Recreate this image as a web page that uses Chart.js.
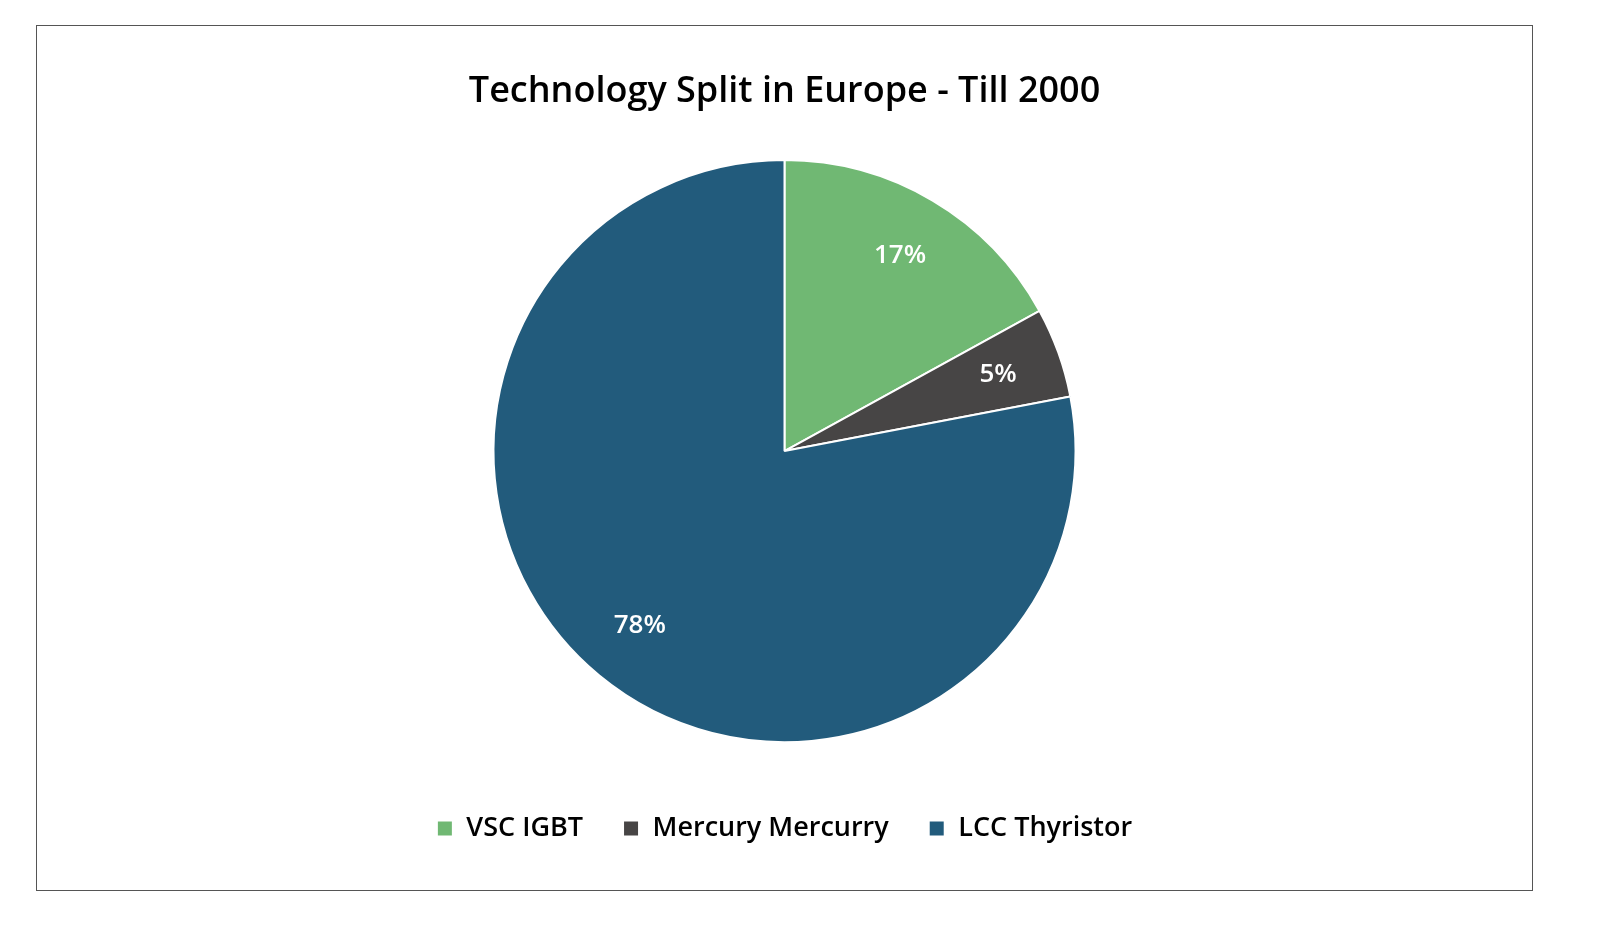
<!DOCTYPE html>
<html>
<head>
<meta charset="utf-8">
<script src="https://cdn.jsdelivr.net/npm/chart.js@4"></script>
<style>
  body { margin: 0; background: #fff; }
  #box { position: absolute; left: 36px; top: 25px; width: 1495px; height: 864px; border: 1px solid #555; }
</style>
</head>
<body>
<div id="box"><canvas id="pie"></canvas></div>
<script>
const categories = ["VSC IGBT", "Mercury Mercurry", "LCC Thyristor"];
const shares = [17, 5, 78];
const colours = ["#70b873", "#474545", "#225b7c"];

// etichette percentuali dentro le fette
const etichette = {
  id: 'etichette',
  afterDatasetsDraw(chart) {
    const ctx = chart.ctx;
    chart.getDatasetMeta(0).data.forEach((arc, i) => {
      const mid = (arc.startAngle + arc.endAngle) / 2;
      const r = arc.outerRadius * 0.78;
      ctx.save();
      ctx.fillStyle = '#ffffff';
      ctx.font = "600 26px 'Open Sans'";
      ctx.textAlign = 'center';
      ctx.textBaseline = 'middle';
      ctx.fillText(shares[i] + '%', arc.x + Math.cos(mid) * r, arc.y + Math.sin(mid) * r);
      ctx.restore();
    });
  }
};

new Chart(document.getElementById('pie'), {
  type: 'pie',
  data: {
    labels: categories,
    datasets: [{
      data: shares,
      backgroundColor: colours,
      borderColor: '#ffffff',
      borderWidth: 2,
      radius: 291
    }]
  },
  options: {
    responsive: true,
    maintainAspectRatio: false,
    animation: false,
    layout: { padding: { bottom: 38 } },
    plugins: {
      title: {
        display: true,
        text: 'Technology Split in Europe - Till 2000',
        color: '#000',
        font: { family: "'Open Sans'", size: 36, weight: '600' },
        padding: { top: 44, bottom: 14 }
      },
      legend: {
        position: 'bottom',
        labels: {
          color: '#000',
          font: { family: "'Open Sans'", size: 27, weight: '600' },
          boxWidth: 16, boxHeight: 16,
          padding: 40
        }
      },
      tooltip: { enabled: false }
    }
  },
  plugins: [etichette]
});
</script>
</body>
</html>
